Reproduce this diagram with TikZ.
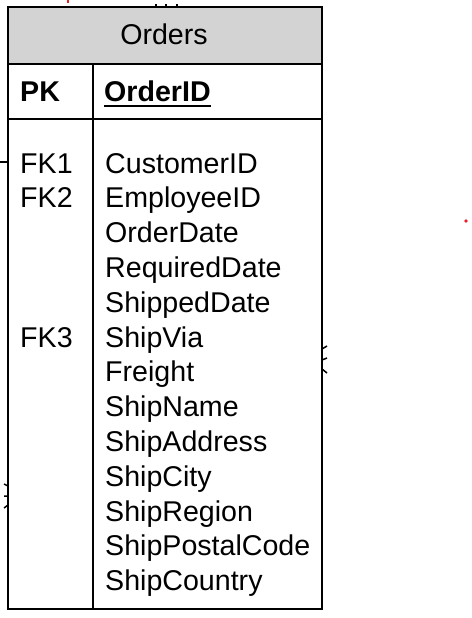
\documentclass[tikz,border=0pt]{standalone}
\usepackage{fontspec}
\setmainfont{Liberation Sans}
\definecolor{hdr}{HTML}{D3D3D3}
\definecolor{redmark}{HTML}{E8202A}
\tikzset{
  cell/.style={draw=black, line width=2pt},
  txt/.style={anchor=base west, inner sep=0pt, font=\fontsize{28.6}{34}\selectfont},
  ttl/.style={anchor=base, inner sep=0pt, font=\fontsize{28.6}{34}\selectfont},
  bold/.style={txt, font=\fontsize{28.6}{34}\selectfont\bfseries},
  tick/.style={line width=1.5pt},
}
\begin{document}
\begin{tikzpicture}[x=1pt,y=-1pt]
\useasboundingbox (0,0) rectangle (471,618);
% table frame
\coordinate (tl) at (8,7);
\coordinate (br) at (322,609);
\fill[hdr] (8,7) rectangle (322,64);
\draw[cell] (tl) rectangle (br);
\draw[cell] (8,64) -- (322,64);
\draw[cell] (8,119) -- (322,119);
\draw[cell] (93,64) -- (93,609);
% title
\node[ttl] (title) at (164,45) {Orders};
% key row
\node[bold] (pk) at (20,101) {PK};
\node[bold] (oid) at (104,101) {OrderID};
\draw[line width=2pt] (oid.south west |- 0,106) -- (oid.south east |- 0,106);
% FK labels
\node[txt] (fk1) at (20,173) {FK1};
\node[txt] (fk2) at (20,207.8) {FK2};
\node[txt] (fk3) at (20,347) {FK3};
% attributes
\foreach \t [count=\i from 0] in {CustomerID,EmployeeID,OrderDate,RequiredDate,ShippedDate,ShipVia,Freight,ShipName,ShipAddress,ShipCity,ShipRegion,ShipPostalCode,ShipCountry}
  \node[txt] (a\i) at (105,173+34.8*\i) {\t};
% connector fragments at the frame
\coordinate (lstub) at (0,162);
\draw[tick] (lstub) -- (8,162);
\draw[tick] (322,349) -- (327,346) (322,360) -- (327,358) (322,369) -- (327,373);
\draw[tick] (8,486) -- (4,484) (8,496) -- (4,496) (8,505) -- (4,508);
\draw[tick] (156,7) -- (156,4) (166,7) -- (166,4) (177,7) -- (177,4);
\coordinate (rdot) at (466,221);
\fill[redmark] (rdot) circle (1.8);
\draw[redmark, line width=1.5pt] (68,0) -- (68,3);
\end{tikzpicture}
\end{document}
